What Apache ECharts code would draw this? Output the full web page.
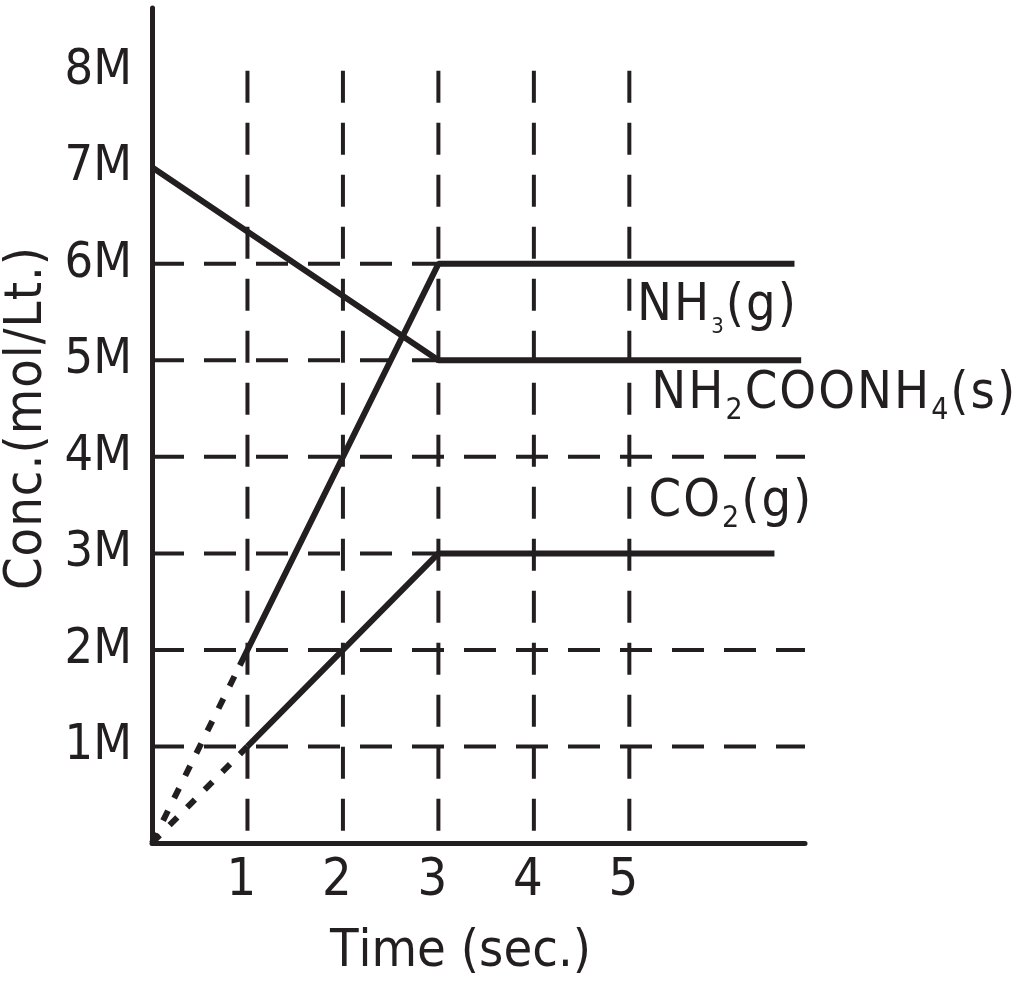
<!DOCTYPE html>
<html>
<head>
<meta charset="utf-8">
<script src="https://cdn.jsdelivr.net/npm/echarts@6/dist/echarts.min.js"></script>
<style>
  html, body { margin: 0; padding: 0; background: #fff; }
  #chart { width: 1016px; height: 984px; }
</style>
</head>
<body>
<div id="chart"></div>
<script>
// tick labels
const timeTicks = [1, 2, 3, 4, 5];
const concTicks = [1, 2, 3, 4, 5, 6, 7, 8];

// dashed guide lines (concentration levels and where they stop)
const guideConc = [1, 2, 3, 4, 5, 6];
const guideConcEnd = [6.84, 6.84, 3, 6.84, 3, 3];
const guideTime = [1, 2, 3, 4, 5];
const guideTimeTop = 8;

// series values [time, conc]
const carbamate = [[0, 7], [3, 5], [6.8, 5]];
const ammoniaDotted = [[0, 0], [0.92, 1.84]];
const ammonia = [[0.92, 1.84], [3, 6], [6.73, 6]];
const co2Dotted = [[0, 0], [1, 1]];
const co2 = [[1, 1], [3, 3], [6.52, 3]];

// species labels
const speciesNames = ['NH_3(g)', 'NH_2COONH_4(s)', 'CO_2(g)'];
const speciesAnchor = [[5.07, 5.53], [5.22, 4.62], [5.19, 3.5]];
const speciesSub = ['s', 'b', 'b'];

const ink = '#231f20';
const font = "'DejaVu Sans Condensed', 'Liberation Sans Narrow', sans-serif";

// each char as its own token so letters get spaced out
function spaced(text) {
  return text.split('').map(c => '{c|' + c + '}').join('');
}
function chem(text, sub) {
  let out = '';
  for (let i = 0; i < text.length; i++) {
    if (text[i] === '_') {
      i++;
      out += '{' + sub + '|' + text[i] + '}';
    } else {
      out += '{m|' + text[i] + '}';
    }
  }
  return out;
}

const series = [];

guideConc.forEach((c, i) => {
  series.push({
    type: 'line', silent: true, symbol: 'none', z: 1,
    data: [[0, c], [guideConcEnd[i], c]],
    lineStyle: { color: ink, width: 4, type: [32, 20], cap: 'butt' }
  });
});
guideTime.forEach(t => {
  series.push({
    type: 'line', silent: true, symbol: 'none', z: 1,
    data: [[t, guideTimeTop], [t, 0]],
    lineStyle: { color: ink, width: 4, type: [32, 20], cap: 'butt' }
  });
});

[carbamate, ammonia, co2].forEach(d => {
  series.push({
    type: 'line', symbol: 'none', z: 3, data: d,
    lineStyle: { color: ink, width: 6, type: 'solid' }
  });
});
[ammoniaDotted, co2Dotted].forEach(d => {
  series.push({
    type: 'line', symbol: 'none', z: 3, data: d,
    lineStyle: { color: ink, width: 6, type: [11, 14], cap: 'butt' }
  });
});

series.push({
  type: 'scatter', silent: true, symbolSize: 0, z: 4,
  itemStyle: { color: ink, opacity: 1 },
  data: speciesAnchor.map((p, i) => ({ value: p, name: speciesNames[i] })),
  label: {
    show: true, position: 'right', distance: 0, color: ink, opacity: 1,
    formatter: p => chem(p.name, speciesSub[p.dataIndex]),
    rich: {
      m: { fontFamily: font, fontSize: 52, color: ink, padding: [0, 1, 6, 1], verticalAlign: 'bottom' },
      s: { fontFamily: font, fontSize: 22, color: ink, padding: [0, 1, 0, 1], verticalAlign: 'bottom' },
      b: { fontFamily: font, fontSize: 30, color: ink, padding: [0, 1, 0, 1], verticalAlign: 'bottom' }
    }
  }
});

const chart = echarts.init(document.getElementById('chart'));
chart.setOption({
  animation: false,
  backgroundColor: '#fff',
  grid: { left: 152, right: 211, top: 8, bottom: 141, containLabel: false, outerBoundsMode: 'none' },
  xAxis: {
    type: 'value', min: 0, max: 6.84, interval: 1,
    name: spaced('Time (sec.)'),
    nameLocation: 'middle', nameGap: 83,
    nameTextStyle: {
      padding: [0, 36, 0, 0],
      rich: { c: { fontFamily: font, fontSize: 52, color: ink, padding: [0, 0] } }
    },
    axisLine: { lineStyle: { color: ink, width: 5 } },
    axisTick: { show: false },
    splitLine: { show: false },
    axisLabel: {
      margin: 12, showMaxLabel: false,
      formatter: v => timeTicks.includes(v) ? spaced(String(v)) : '',
      rich: { c: { fontFamily: font, fontSize: 52, color: ink, padding: [0, 12, 0, 0] } }
    }
  },
  yAxis: {
    type: 'value', min: 0, max: 8.65, interval: 1,
    name: spaced('Conc.(mol/Lt.)'),
    nameLocation: 'middle', nameGap: 99,
    nameTextStyle: {
      padding: [0, 0, 0, 14],
      rich: { c: { fontFamily: font, fontSize: 52, color: ink, padding: [0, 0.5] } }
    },
    axisLine: { show: true, lineStyle: { color: ink, width: 5 } },
    axisTick: { show: false },
    splitLine: { show: false },
    axisLabel: {
      margin: 20, showMaxLabel: false,
      formatter: v => concTicks.includes(v) ? spaced(v + 'M') : '',
      rich: { c: { fontFamily: font, fontSize: 50, color: ink, padding: [0, 0] } }
    }
  },
  series: series
});
</script>
</body>
</html>
